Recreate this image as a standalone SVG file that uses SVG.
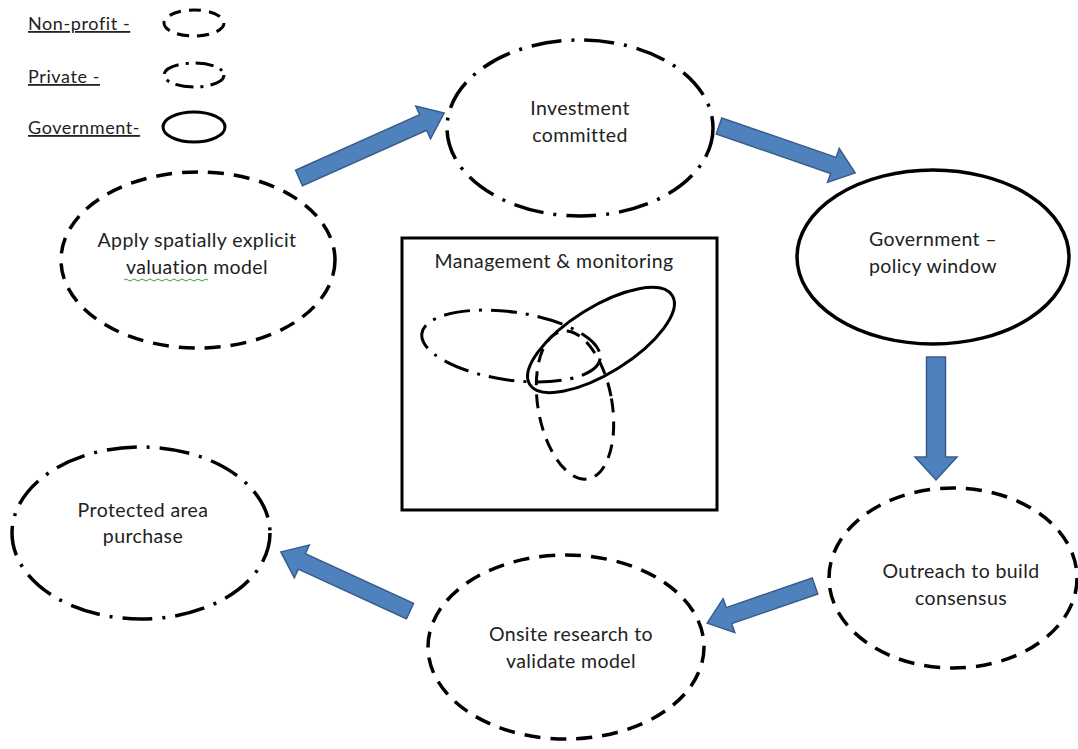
<svg xmlns="http://www.w3.org/2000/svg" width="1078" height="749" viewBox="0 0 1078 749">
<defs>
<style>
.t{font-family:Lato,"Open Sans","Liberation Sans",sans-serif;font-size:19.5px;letter-spacing:0.4px;fill:#222;text-anchor:middle}
.lg{font-family:Lato,"Open Sans","Liberation Sans",sans-serif;font-size:18px;letter-spacing:0.6px;fill:#222;text-decoration:underline}
.np{fill:#fff;stroke:#000;stroke-width:3.5;stroke-dasharray:16 10}
.pv{fill:#fff;stroke:#000;stroke-width:3.5;stroke-dasharray:30 10 3 10}
.gv{fill:#fff;stroke:#000;stroke-width:3.5}
.np2{fill:none;stroke:#000;stroke-width:3;stroke-dasharray:14 9}
.pv2{fill:none;stroke:#000;stroke-width:3;stroke-dasharray:26 9 3 9}
.gv2{fill:none;stroke:#000;stroke-width:3}
.ar{fill:#4F81BD;stroke:#385D8A;stroke-width:1.5;stroke-linejoin:miter}
</style>
</defs>
<rect width="1078" height="749" fill="#fff"/>
<g id="legend">
<text class="lg" x="28" y="30">Non-profit -</text>
<ellipse class="np" style="stroke-width:3;stroke-dasharray:12 8" cx="194" cy="23" rx="30" ry="13"/>
<text class="lg" x="28" y="83">Private -</text>
<ellipse class="pv" style="stroke-width:3;stroke-dasharray:18 7 3 7" cx="194" cy="75" rx="30" ry="12"/>
<text class="lg" x="28" y="134">Government-</text>
<ellipse class="gv" style="stroke-width:3" cx="194" cy="127" rx="31" ry="15"/>
</g>
<g id="connectors">
<path class="ar" transform="translate(299,178) rotate(-24.1)" d="M0,-8.5 L136,-8.5 L136,-18 L159,0 L136,18 L136,8.5 L0,8.5 Z"/>
<path class="ar" transform="translate(719,126) rotate(19)" d="M0,-8.5 L121,-8.5 L121,-18 L144,0 L121,18 L121,8.5 L0,8.5 Z"/>
<path class="ar" transform="translate(936,357) rotate(90)" d="M0,-9.5 L100,-9.5 L100,-21 L123,0 L100,21 L100,9.5 L0,9.5 Z"/>
<path class="ar" transform="translate(815,586) rotate(161)" d="M0,-8.5 L91,-8.5 L91,-18 L114,0 L91,18 L91,8.5 L0,8.5 Z"/>
<path class="ar" transform="translate(410,611) rotate(204.6)" d="M0,-8.5 L119,-8.5 L119,-18 L142,0 L119,18 L119,8.5 L0,8.5 Z"/>
</g>
<g id="investment">
<ellipse class="pv" cx="580" cy="128" rx="133" ry="88"/>
<text class="t" x="580" y="115">Investment</text>
<text class="t" x="580" y="142">committed</text>
</g>
<g id="apply">
<ellipse class="np" cx="198" cy="260" rx="137" ry="88"/>
<text class="t" x="197" y="247">Apply spatially explicit</text>
<text class="t" x="197" y="274">valuation model</text>
<path d="M124,280 q2,-2 4,0 t4,0 t4,0 t4,0 t4,0 t4,0 t4,0 t4,0 t4,0 t4,0 t4,0 t4,0 t4,0 t4,0 t4,0 t4,0 t4,0 t4,0 t4,0 t4,0 t4,0" fill="none" stroke="#3a3" stroke-width="1"/>
</g>
<g id="government">
<ellipse class="gv" cx="933" cy="257" rx="136" ry="87"/>
<text class="t" x="933" y="246">Government –</text>
<text class="t" x="933" y="273">policy window</text>
</g>
<g id="outreach">
<ellipse class="np" cx="953" cy="578" rx="124" ry="90"/>
<text class="t" x="961" y="578">Outreach to build</text>
<text class="t" x="961" y="605">consensus</text>
</g>
<g id="onsite">
<ellipse class="np" cx="566" cy="647" rx="138" ry="92"/>
<text class="t" x="571" y="641">Onsite research to</text>
<text class="t" x="571" y="668">validate model</text>
</g>
<g id="protected">
<ellipse class="pv" cx="141" cy="533" rx="129" ry="86"/>
<text class="t" x="143" y="517">Protected area</text>
<text class="t" x="143" y="543">purchase</text>
</g>
<g id="management">
<rect x="402" y="238" width="315" height="272" fill="#fff" stroke="#000" stroke-width="3"/>
<text class="t" x="554" y="268">Management &amp; monitoring</text>
<ellipse class="pv2" cx="511" cy="346" rx="90" ry="34" transform="rotate(8 511 346)"/>
<ellipse class="np2" cx="575" cy="405" rx="37" ry="75" transform="rotate(-10 575 405)"/>
<ellipse class="gv2" cx="601" cy="340" rx="84" ry="33" transform="rotate(-32 601 340)"/>
</g>
</svg>
